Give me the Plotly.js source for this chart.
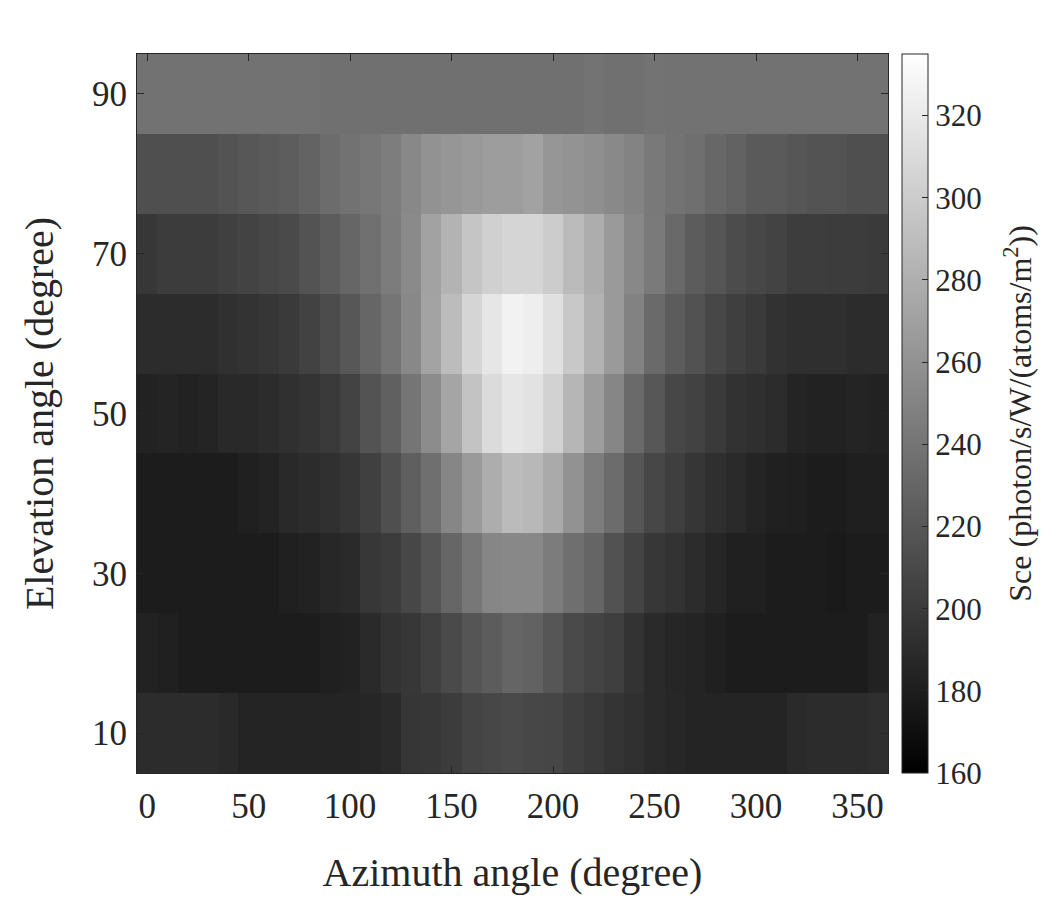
<!DOCTYPE html>
<html>
<head>
<meta charset="utf-8">
<script src="https://cdn.plot.ly/plotly-3.0.1.min.js"></script>
<style>
  html, body { margin: 0; padding: 0; background: #ffffff; }
  #chart { width: 1050px; height: 900px; }
</style>
</head>
<body>
<div id="chart"></div>
<script>
// Azimuth angle (degree) - column centres
const azimuth = [0, 10, 20, 30, 40, 50, 60, 70, 80, 90, 100, 110, 120, 130, 140, 150, 160, 170, 180,
                 190, 200, 210, 220, 230, 240, 250, 260, 270, 280, 290, 300, 310, 320, 330, 340, 350, 360];
// Elevation angle (degree) - row centres
const elevation = [10, 20, 30, 40, 50, 60, 70, 80, 90];

// Sce values, one array per elevation row (photon/s/W/(atoms/m^2))
const sce_el10 = [190,190,190,190,188,185,185,185,185,185,185,186,189,197,198,201,207,209,211,209,208,203,200,196,193,189,187,185,185,185,185,185,189,190,190,190,192];
const sce_el20 = [183,182,179,179,179,179,179,179,179,182,183,189,195,198,204,211,218,223,229,227,219,211,207,203,195,189,186,185,182,179,179,179,179,179,179,179,183];
const sce_el30 = [179,179,179,179,179,179,179,182,183,187,189,198,201,209,218,230,242,252,253,253,245,236,229,216,207,198,195,190,186,182,182,179,179,179,178,179,179];
const sce_el40 = [179,179,179,179,179,182,184,188,190,193,197,204,214,225,236,252,266,279,288,286,277,260,246,234,219,209,203,197,192,189,185,182,181,179,179,181,181];
const sce_el50 = [183,185,183,185,188,188,190,193,196,200,206,217,226,240,256,273,294,310,318,315,304,285,268,252,233,220,209,205,200,194,192,190,185,183,183,185,183];
const sce_el60 = [190,190,190,190,193,195,197,200,205,212,220,230,240,253,272,289,306,318,326,323,314,297,282,266,249,233,223,216,209,203,200,194,192,192,192,190,190];
const sce_el70 = [198,201,201,201,204,206,209,211,217,223,230,237,245,255,271,283,295,303,306,306,300,288,279,266,253,244,232,223,218,212,209,206,202,202,201,201,200];
const sce_el80 = [214,214,214,214,217,220,222,224,228,234,238,242,246,253,260,263,266,268,268,271,263,261,258,254,250,243,239,236,231,227,222,222,219,217,217,214,214];
const sce_el90 = [238,238,238,238,238,238,238,238,238,237,237,237,237,237,237,237,237,237,237,237,237,237,239,237,237,239,238,238,238,238,238,238,238,238,238,238,238];

const xTicks = [0, 50, 100, 150, 200, 250, 300, 350];
const yTicks = [10, 30, 50, 70, 90];
const cbTicks = [160, 180, 200, 220, 240, 260, 280, 300, 320];

const zRows = [sce_el10, sce_el20, sce_el30, sce_el40, sce_el50, sce_el60, sce_el70, sce_el80, sce_el90];

const FONT = '"Liberation Serif", "Times New Roman", serif';
const AXC = '#262626';

const trace = {
  type: 'heatmap',
  x: azimuth,
  y: elevation,
  z: zRows,
  zmin: 160,
  zmax: 335,
  colorscale: [[0, '#000000'], [1, '#ffffff']],
  xgap: 0,
  ygap: 0,
  colorbar: {
    x: 1.0186,
    xanchor: 'left',
    xref: 'paper',
    y: 0,
    yanchor: 'bottom',
    len: 1,
    lenmode: 'fraction',
    thickness: 26,
    thicknessmode: 'pixels',
    xpad: 0,
    ypad: 0,
    outlinewidth: 1,
    outlinecolor: AXC,
    ticks: 'inside',
    ticklen: 6,
    tickcolor: AXC,
    tickvals: cbTicks,
    ticktext: cbTicks.map(String),
    ticklabelstandoff: 4,
    tickfont: { family: FONT, size: 31, color: AXC }
  },
  hoverinfo: 'x+y+z'
};

const layout = {
  width: 1050,
  height: 900,
  paper_bgcolor: '#ffffff',
  plot_bgcolor: '#ffffff',
  margin: { l: 137, r: 162, t: 54, b: 127 },
  font: { family: FONT, color: AXC },
  showlegend: false,
  xaxis: {
    range: [-5, 365],
    tickvals: xTicks,
    ticktext: xTicks.map(String),
    ticks: 'inside',
    ticklen: 7,
    tickcolor: AXC,
    tickwidth: 1,
    showline: true,
    linecolor: AXC,
    linewidth: 1,
    mirror: 'ticks',
    showgrid: false,
    zeroline: false,
    tickfont: { family: FONT, size: 35, color: AXC },
    ticklabelstandoff: 2,
    title: { text: 'Azimuth angle (degree)', font: { family: FONT, size: 40, color: AXC }, standoff: 32 }
  },
  yaxis: {
    range: [5, 95],
    tickvals: yTicks,
    ticktext: yTicks.map(String),
    ticks: 'inside',
    ticklen: 7,
    tickcolor: AXC,
    tickwidth: 1,
    showline: true,
    linecolor: AXC,
    linewidth: 1,
    mirror: 'ticks',
    showgrid: false,
    zeroline: false,
    tickfont: { family: FONT, size: 35, color: AXC },
    ticklabelstandoff: 2,
    title: { text: 'Elevation angle (degree)', font: { family: FONT, size: 40, color: AXC }, standoff: 26 }
  },
  annotations: [{
    text: 'Sce (photon/s/W/(atoms/m<sup>2</sup>))',
    xref: 'paper',
    yref: 'paper',
    x: 1.172,
    y: 0.5,
    xanchor: 'center',
    yanchor: 'middle',
    textangle: -90,
    showarrow: false,
    font: { family: FONT, size: 32, color: AXC }
  }]
};

Plotly.newPlot('chart', [trace], layout, { displayModeBar: false, responsive: false });
</script>
</body>
</html>
